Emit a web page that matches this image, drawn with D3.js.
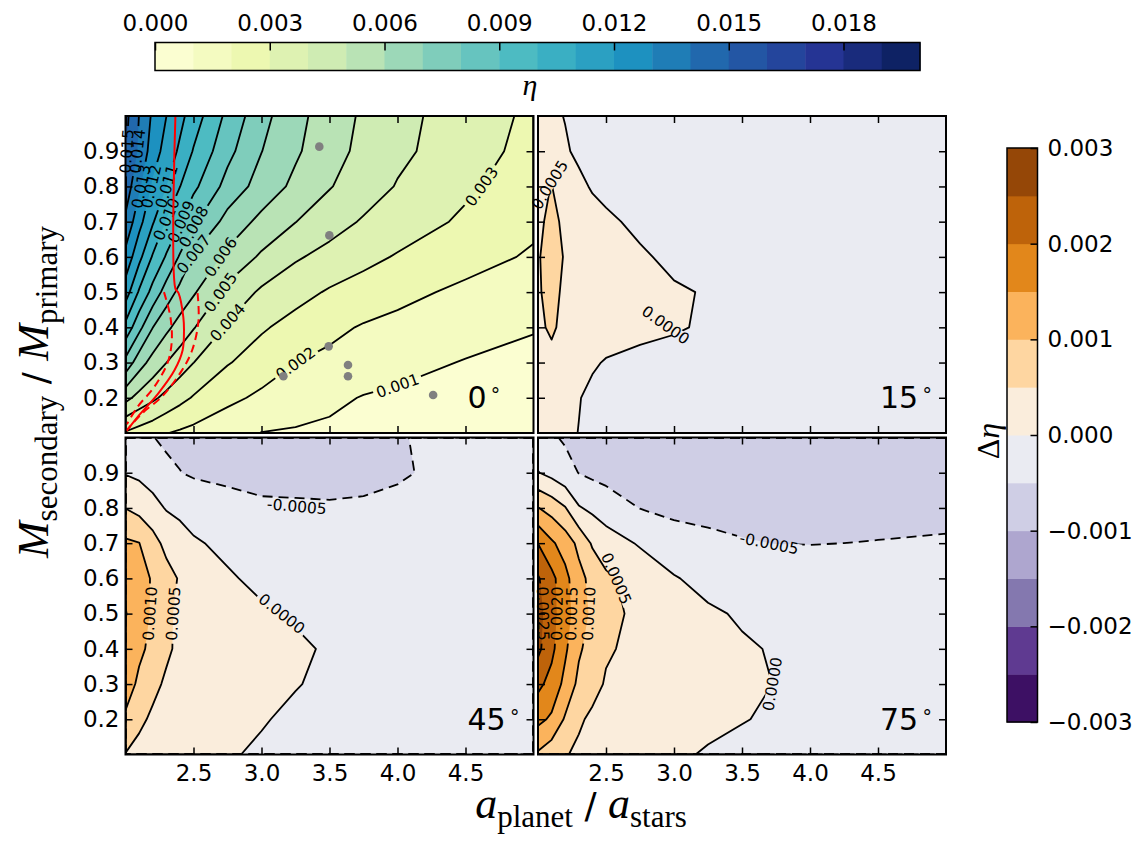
<!DOCTYPE html>
<html>
<head>
<meta charset="utf-8">
<script src="https://cdn.jsdelivr.net/npm/d3@7"></script>
<style>
  body { margin: 0; background: #fff; }
  svg { display: block; }
</style>
</head>
<body>
<div id="chart"></div>
<script>
// Grid of the runs: a_planet / a_stars (columns) and M_secondary / M_primary (rows)
const xGrid = [2.0, 2.1, 2.2, 2.3, 2.4, 2.5, 2.75, 3.0, 3.25, 3.5, 3.75, 4.0, 4.5, 5.0];
const yGrid = [0.1, 0.2, 0.3, 0.4, 0.5, 0.6, 0.7, 0.8, 0.9, 1.0];

// eta for the coplanar case, one row per mass ratio (bottom row first)
const eta0 = [
  [0.0029, 0.0026, 0.00235, 0.00203, 0.00186, 0.00171, 0.00133, 0.00098, 0.0009, 0.00082, 0.00075, 0.00068, 0.0006, 0.0005],
  [0.0053, 0.00467, 0.00419, 0.00374, 0.0033, 0.00292, 0.00224, 0.00181, 0.00151, 0.00121, 0.00095, 0.00085, 0.0008, 0.0007],
  [0.0077, 0.00644, 0.00563, 0.00501, 0.0045, 0.00401, 0.00307, 0.00252, 0.00201, 0.00178, 0.00156, 0.00128, 0.00095, 0.0008],
  [0.0097, 0.00829, 0.00702, 0.00623, 0.00561, 0.00506, 0.00388, 0.00312, 0.00265, 0.00223, 0.00192, 0.00175, 0.0014, 0.00105],
  [0.0115, 0.00988, 0.00867, 0.00756, 0.00671, 0.00612, 0.00471, 0.00384, 0.00334, 0.0029, 0.00258, 0.00226, 0.0018, 0.00147],
  [0.0127, 0.01129, 0.0099, 0.0089, 0.00789, 0.0069, 0.00577, 0.00485, 0.00412, 0.00367, 0.00328, 0.00292, 0.00236, 0.00188],
  [0.0138, 0.01233, 0.01111, 0.00992, 0.00908, 0.00818, 0.00664, 0.00574, 0.00502, 0.00442, 0.0039, 0.00353, 0.00283, 0.0022],
  [0.0146, 0.01317, 0.01183, 0.01101, 0.01002, 0.00923, 0.00765, 0.00659, 0.00577, 0.00506, 0.00448, 0.00394, 0.00317, 0.00245],
  [0.0151, 0.01383, 0.0125, 0.01162, 0.01082, 0.00993, 0.00829, 0.00702, 0.00614, 0.00538, 0.00474, 0.00421, 0.00346, 0.00265],
  [0.0153, 0.01398, 0.01283, 0.01201, 0.01129, 0.0105, 0.00875, 0.00732, 0.0063, 0.00551, 0.00485, 0.0043, 0.00351, 0.0028]
];

// delta eta relative to the coplanar case at 15, 45 and 75 degrees
const dEta15 = [
  [0.0002, 0.00018, 0.0001, -0.00001, -0.0001, -0.00015, -0.0002, -0.0002, -0.0002, -0.0002, -0.0002, -0.0002, -0.0002, -0.0002],
  [0.00025, 0.00022, 0.00015, 0.00002, -0.0001, -0.00015, -0.0002, -0.0002, -0.0002, -0.0002, -0.0002, -0.0002, -0.0002, -0.0002],
  [0.0003, 0.00035, 0.00025, 0.00015, 0.00005, -0.00003, -0.00012, -0.00015, -0.0002, -0.0002, -0.0002, -0.0002, -0.0002, -0.0002],
  [0.0004, 0.00058, 0.00035, 0.0003, 0.00025, 0.0002, 0.00012, 0.00004, -0.00005, -0.00012, -0.00018, -0.0002, -0.0002, -0.0002],
  [0.00045, 0.00065, 0.0004, 0.00032, 0.00026, 0.0002, 0.00012, 0.00005, -0.00003, -0.00012, -0.00018, -0.0002, -0.0002, -0.0002],
  [0.00045, 0.00075, 0.00045, 0.00035, 0.00028, 0.00022, 0.00006, -0.0001, -0.00018, -0.0002, -0.0002, -0.0002, -0.0002, -0.0002],
  [0.00042, 0.0006, 0.00042, 0.0003, 0.0002, 0.00008, -0.0001, -0.0002, -0.0002, -0.0002, -0.0002, -0.0002, -0.0002, -0.0002],
  [0.0004, 0.00051, 0.0003, 0.00012, -0.00005, -0.00012, -0.0002, -0.0002, -0.0002, -0.0002, -0.0002, -0.0002, -0.0002, -0.0002],
  [0.0003, 0.00022, 0.00006, -0.0001, -0.00015, -0.0002, -0.0002, -0.0002, -0.0002, -0.0002, -0.0002, -0.0002, -0.0002, -0.0002],
  [0.0002, 0.0001, -0.00002, -0.0001, -0.00015, -0.0002, -0.0002, -0.0002, -0.0002, -0.0002, -0.0002, -0.0002, -0.0002, -0.0002]
];
const dEta45 = [
  [0.00048, 0.00035, 0.00028, 0.00024, 0.0002, 0.00017, 0.00004, -0.00006, -0.00012, -0.00016, -0.00018, -0.0002, -0.0002, -0.0002],
  [0.00093, 0.0006, 0.00042, 0.00033, 0.00027, 0.00022, 0.00014, 0.00003, -0.00008, -0.00014, -0.00018, -0.0002, -0.0002, -0.0002],
  [0.0012, 0.00092, 0.00062, 0.00043, 0.00035, 0.00029, 0.0002, 0.00012, 0.00002, -0.00008, -0.00015, -0.0002, -0.0002, -0.0002],
  [0.0014, 0.00108, 0.0009, 0.00058, 0.0004, 0.00034, 0.00024, 0.00014, 0.00006, -0.00004, -0.00012, -0.00018, -0.0002, -0.0002],
  [0.00152, 0.00128, 0.00092, 0.00058, 0.00042, 0.00033, 0.00018, 0.00006, -0.00004, -0.00012, -0.00018, -0.0002, -0.0002, -0.0002],
  [0.0014, 0.0012, 0.00095, 0.0007, 0.00045, 0.00032, 0.00005, -0.0001, -0.00015, -0.0002, -0.0002, -0.0002, -0.0002, -0.0002],
  [0.00108, 0.00101, 0.0007, 0.00035, 0.00018, 0.00005, -0.0001, -0.00018, -0.0002, -0.0002, -0.0002, -0.0002, -0.0002, -0.0002],
  [0.00049, 0.00035, 0.00015, -0.00003, -0.0001, -0.00018, -0.00035, -0.00045, -0.00046, -0.00047, -0.00045, -0.0004, -0.00025, -0.0002],
  [-0.00003, -0.0001, -0.0002, -0.00042, -0.00049, -0.00056, -0.0006, -0.0006, -0.0006, -0.0006, -0.0006, -0.00055, -0.00035, -0.0003],
  [-0.00025, -0.0004, -0.00049, -0.00056, -0.0006, -0.00063, -0.00065, -0.00065, -0.00065, -0.00065, -0.0006, -0.00052, -0.0004, -0.0003]
];
const dEta75 = [
  [0.00093, 0.0007, 0.00053, 0.00042, 0.00034, 0.00027, 0.00016, 0.00007, -0.00004, -0.00012, -0.00016, -0.00018, -0.0002, -0.0002],
  [0.00163, 0.00142, 0.00094, 0.00056, 0.00042, 0.00034, 0.00024, 0.00016, 0.0001, 0.00002, -0.00006, -0.00012, -0.00018, -0.0002],
  [0.00212, 0.00183, 0.00136, 0.00088, 0.00064, 0.00046, 0.00032, 0.00024, 0.00016, 0.00008, -0.00001, -0.0001, -0.00018, -0.0002],
  [0.00262, 0.00212, 0.00158, 0.00107, 0.0008, 0.00055, 0.00038, 0.00026, 0.00016, 0.00006, -0.00004, -0.00012, -0.0002, -0.00022],
  [0.0027, 0.00218, 0.0017, 0.00125, 0.0009, 0.00068, 0.00035, 0.00022, 0.00008, -0.00006, -0.00016, -0.00022, -0.00025, -0.00025],
  [0.00255, 0.00215, 0.00165, 0.00115, 0.00085, 0.00058, 0.00032, 0.00004, -0.00018, -0.00026, -0.0003, -0.0003, -0.0003, -0.0003],
  [0.00199, 0.00158, 0.00127, 0.00088, 0.00044, 0.00024, -0.00005, -0.00035, -0.00042, -0.00048, -0.000505, -0.00051, -0.00049, -0.00047],
  [0.00102, 0.0008, 0.00053, 0.00004, -0.0001, -0.00025, -0.00051, -0.00058, -0.0006, -0.0006, -0.0006, -0.0006, -0.0006, -0.00058],
  [0.00002, -0.00015, -0.00035, -0.00051, -0.0006, -0.00065, -0.0007, -0.00075, -0.00075, -0.00075, -0.00075, -0.00075, -0.00075, -0.00075],
  [-0.00035, -0.00045, -0.00055, -0.0006, -0.00065, -0.0007, -0.00075, -0.0008, -0.0008, -0.0008, -0.0008, -0.0008, -0.0008, -0.0008]
];

// Contour levels
const etaLevels = d3.range(21).map(i => i * 0.001);
const dEtaLevels = d3.range(13).map(i => (i - 6) * 0.0005);

// Ticks
const xTicks = [2.5, 3.0, 3.5, 4.0, 4.5];
const yTicks = [0.2, 0.3, 0.4, 0.5, 0.6, 0.7, 0.8, 0.9];
const etaBarTicks = [0, 0.003, 0.006, 0.009, 0.012, 0.015, 0.018];
const dEtaBarTicks = [-0.003, -0.002, -0.001, 0, 0.001, 0.002, 0.003];

// Inline contour labels: [level, a ratio, mass ratio, fixed angle (optional)]
const labels0 = [
  [0.001, 3.907, 0.234], [0.002, 3.205, 0.297], [0.003, 4.697, 0.835], [0.004, 2.794, 0.44],
  [0.005, 2.697, 0.512], [0.006, 2.709, 0.612], [0.007, 2.494, 0.611], [0.008, 2.499, 0.686],
  [0.009, 2.413, 0.703], [0.010, 2.298, 0.714], [0.011, 2.303, 0.80], [0.012, 2.164, 0.784],
  [0.013, 2.127, 0.828], [0.014, 2.115, 0.89], [0.015, 2.054, 0.916]
];
const labels15 = [[0.0005, 2.085, 0.805, -58], [0, 2.94, 0.407, 36]];
const labels45 = [[-0.0005, 3.26, 0.805, 5], [0, 3.21, 0.50], [0.001, 2.164, 0.505], [0.0005, 2.367, 0.505]];
const labels75 = [
  [-0.0005, 3.72, 0.698], [0, 3.736, 0.331], [0.0005, 2.56, 0.60], [0.001, 2.355, 0.50],
  [0.0015, 2.244, 0.50], [0.002, 2.134, 0.50], [0.0025, 2.03, 0.50]
];

// Known systems (grey points) and the stability limit (red) in the coplanar panel
const systems = [[3.425, 0.913], [3.499, 0.661], [3.494, 0.346], [3.636, 0.293], [3.636, 0.261], [3.161, 0.261], [4.262, 0.208]];
const limit = [[2.367, 1.0], [2.367, 0.51], [2.39, 0.497], [2.425, 0.43], [2.43, 0.39], [2.42, 0.335], [2.36, 0.278], [2.24, 0.212], [2.09, 0.146], [2.008, 0.106]];
const limitLow = [[2.283, 0.50], [2.33, 0.43], [2.34, 0.36], [2.31, 0.30], [2.21, 0.23], [2.09, 0.175], [2.01, 0.125]];
const limitHigh = [[2.53, 0.497], [2.537, 0.42], [2.49, 0.335], [2.41, 0.275], [2.27, 0.204], [2.12, 0.155], [2.01, 0.108]];

// Colormaps (matplotlib YlGnBu and PuOr, linear segments)
const ylgnbu = d3.piecewise(d3.interpolateRgb, ["#ffffd9", "#edf8b1", "#c7e9b4", "#7fcdbb", "#41b6c4", "#1d91c0", "#225ea8", "#253494", "#081d58"]);
const puor = d3.piecewise(d3.interpolateRgb, ["#7f3b08", "#b35806", "#e08214", "#fdb863", "#fee0b6", "#f7f7f7", "#d8daeb", "#b2abd2", "#8073ac", "#542788", "#2d004b"]);
const etaBand = i => ylgnbu((i + 0.5) / 20);
const dEtaBand = i => puor(1 - (i + 0.5) / 12);

const sans = "DejaVu Sans";
const serif = "Liberation Serif";
const tickFont = 23;

// Set up dimensions
const panelW = 408, panelH = 317;
const svg = d3.select("#chart")
    .append("svg")
    .attr("width", 1141)
    .attr("height", 841)
    .attr("font-family", sans);
const defs = svg.append("defs");

const panels = [
  { id: "p0", name: "0", grid: eta0, levels: etaLevels, band: etaBand, fmt: v => v.toFixed(3), labels: labels0, x0: 125.5, y0: 116, left: true, bottom: false },
  { id: "p15", name: "15", grid: dEta15, levels: dEtaLevels, band: dEtaBand, fmt: v => v.toFixed(4), labels: labels15, x0: 538, y0: 116, left: false, bottom: false },
  { id: "p45", name: "45", grid: dEta45, levels: dEtaLevels, band: dEtaBand, fmt: v => v.toFixed(4), labels: labels45, x0: 125.5, y0: 437.5, left: true, bottom: true },
  { id: "p75", name: "75", grid: dEta75, levels: dEtaLevels, band: dEtaBand, fmt: v => v.toFixed(4), labels: labels75, x0: 538, y0: 437.5, left: false, bottom: true }
];

const nx = xGrid.length, ny = yGrid.length;
// grid index -> data value (d3.contours puts sample i at i + 0.5)
const gx = d3.scaleLinear().domain(d3.range(nx)).range(xGrid).clamp(true);
const gy = d3.scaleLinear().domain(d3.range(ny)).range(yGrid).clamp(true);

panels.forEach(p => {
    const x = d3.scaleLinear().domain([2, 5]).range([p.x0, p.x0 + panelW]);
    const y = d3.scaleLinear().domain([0.1, 1.0]).range([p.y0 + panelH, p.y0]);
    const toPx = pt => [x(gx(pt[0] - 0.5)), y(gy(pt[1] - 0.5))];
    const path = d3.geoPath(d3.geoTransform({
        point(a, b) { const q = toPx([a, b]); this.stream.point(q[0], q[1]); }
    }));

    const contours = d3.contours()
        .size([nx, ny])
        .thresholds(p.levels)(p.grid.flat());

    defs.append("clipPath").attr("id", "clip-" + p.id)
        .append("rect")
        .attr("x", p.x0).attr("y", p.y0)
        .attr("width", panelW).attr("height", panelH);

    const g = svg.append("g");

    // Filled bands
    g.append("g")
        .attr("clip-path", `url(#clip-${p.id})`)
        .selectAll("path")
        .data(contours.slice(0, -1))
        .join("path")
        .attr("d", path)
        .attr("fill", (d, i) => p.band(i));

    // Contour lines (masked where the labels go)
    const lines = g.append("g")
        .attr("clip-path", `url(#clip-${p.id})`)
        .append("g")
        .attr("mask", `url(#mask-${p.id})`);
    lines.selectAll("path")
        .data(contours.slice(1, -1))
        .join("path")
        .attr("d", path)
        .attr("fill", "none")
        .attr("stroke", "#000")
        .attr("stroke-width", 1.8)
        .attr("stroke-linejoin", "round")
        .attr("stroke-dasharray", d => d.value < -1e-9 ? "10,6" : null);

    // Inline labels, placed on the nearest contour point
    const mask = defs.append("mask").attr("id", "mask-" + p.id)
        .attr("maskUnits", "userSpaceOnUse")
        .attr("x", p.x0 - 5).attr("y", p.y0 - 5)
        .attr("width", panelW + 10).attr("height", panelH + 10);
    mask.append("rect")
        .attr("x", p.x0 - 5).attr("y", p.y0 - 5)
        .attr("width", panelW + 10).attr("height", panelH + 10)
        .attr("fill", "#fff");

    const labelG = g.append("g");
    p.labels.forEach(([level, lx, ly, fixed]) => {
        const c = contours.find(d => Math.abs(d.value - level) < 1e-9);
        if (!c) return;
        const ax = x(lx), ay = y(ly);
        let best = null;
        c.coordinates.forEach(poly => poly.forEach(ring => {
            ring.forEach((pt, k) => {
                if (pt[0] <= 0 || pt[0] >= nx || pt[1] <= 0 || pt[1] >= ny) return;
                const q = toPx(pt);
                const dist = Math.hypot(q[0] - ax, q[1] - ay);
                if (!best || dist < best.dist) {
                    const a = toPx(ring[(k - 1 + ring.length) % ring.length]);
                    const b = toPx(ring[(k + 1) % ring.length]);
                    best = { dist, q, a, b };
                }
            });
        }));
        if (!best) return;
        let ang = Math.atan2(best.b[1] - best.a[1], best.b[0] - best.a[0]) * 180 / Math.PI;
        while (ang >= 90) ang -= 180;
        while (ang < -90) ang += 180;
        let pos = best.q;
        if (fixed !== undefined) { ang = fixed; pos = [ax, ay]; }
        const t = labelG.append("text")
            .attr("transform", `translate(${pos[0]},${pos[1]}) rotate(${ang})`)
            .attr("text-anchor", "middle")
            .attr("dy", "0.36em")
            .attr("font-size", 15.5)
            .text(p.fmt(level));
        const w = t.node().getComputedTextLength() + 6;
        mask.append("rect")
            .attr("x", -w / 2).attr("y", -5)
            .attr("width", w).attr("height", 10)
            .attr("transform", `translate(${pos[0]},${pos[1]}) rotate(${ang})`)
            .attr("fill", "#000");
    });

    // Coplanar panel extras: stability limit and known systems
    if (p.id === "p0") {
        const line = d3.line()
            .x(d => x(d[0]))
            .y(d => y(d[1]))
            .curve(d3.curveCatmullRom.alpha(0.5));
        const red = g.append("g").attr("clip-path", `url(#clip-${p.id})`);
        red.append("path").attr("d", line(limit))
            .attr("fill", "none").attr("stroke", "#ff0000").attr("stroke-width", 2);
        [limitLow, limitHigh].forEach(arr => {
            red.append("path").attr("d", line(arr))
                .attr("fill", "none").attr("stroke", "#ff0000").attr("stroke-width", 2)
                .attr("stroke-dasharray", "8,5");
        });
        g.selectAll(".system")
            .data(systems)
            .join("circle")
            .attr("class", "system")
            .attr("cx", d => x(d[0]))
            .attr("cy", d => y(d[1]))
            .attr("r", 4.3)
            .attr("fill", "#808080");
    }

    // Axes with inward ticks on all four sides
    const fmt1 = d3.format(".1f");
    const addAxis = (axis, tx, ty, showLabels) => {
        const ax = g.append("g")
            .attr("transform", `translate(${tx},${ty})`)
            .call(axis.tickSizeOuter(0).tickFormat(showLabels ? fmt1 : () => ""));
        ax.select(".domain").remove();
        ax.attr("font-family", sans).attr("font-size", tickFont);
        ax.selectAll("line").attr("stroke", "#000").attr("stroke-width", 1.5);
        ax.selectAll("text").attr("fill", "#000");
    };
    addAxis(d3.axisBottom(x).tickValues(xTicks).tickSizeInner(-7).tickPadding(10), 0, p.y0 + panelH, p.bottom);
    addAxis(d3.axisTop(x).tickValues(xTicks).tickSizeInner(-7), 0, p.y0, false);
    addAxis(d3.axisLeft(y).tickValues(yTicks).tickSizeInner(-7).tickPadding(6), p.x0, 0, p.left);
    addAxis(d3.axisRight(y).tickValues(yTicks).tickSizeInner(-7), p.x0 + panelW, 0, false);

    // Frame
    g.append("rect")
        .attr("x", p.x0).attr("y", p.y0)
        .attr("width", panelW).attr("height", panelH)
        .attr("fill", "none").attr("stroke", "#000").attr("stroke-width", 2);

    // Inclination tag
    g.append("text")
        .attr("x", p.x0 + 342)
        .attr("y", p.y0 + panelH - 25)
        .attr("font-size", 30)
        .text(p.name)
        .append("tspan")
        .attr("dx", 3).attr("dy", -12)
        .attr("font-size", 19)
        .text("∘");
});

// Top colorbar (eta)
const etaBar = d3.scaleLinear().domain([0, 0.02]).range([155, 920]);
const topBar = svg.append("g");
topBar.selectAll("rect")
    .data(etaLevels.slice(0, -1))
    .join("rect")
    .attr("x", d => etaBar(d))
    .attr("y", 42.5)
    .attr("width", etaBar(0.001) - etaBar(0) + 0.5)
    .attr("height", 28)
    .attr("fill", (d, i) => etaBand(i));
const topAxis = topBar.append("g")
    .attr("transform", "translate(0,42.5)")
    .call(d3.axisTop(etaBar).tickValues(etaBarTicks).tickSizeInner(-8).tickSizeOuter(0).tickPadding(12).tickFormat(d3.format(".3f")));
topAxis.select(".domain").remove();
topAxis.attr("font-family", sans).attr("font-size", tickFont);
topAxis.selectAll("line").attr("stroke-width", 1.5);
topBar.append("rect")
    .attr("x", 155).attr("y", 42.5).attr("width", 765).attr("height", 28)
    .attr("fill", "none").attr("stroke", "#000").attr("stroke-width", 1.5);
svg.append("text")
    .attr("x", 530).attr("y", 95)
    .attr("text-anchor", "middle")
    .attr("font-family", serif)
    .attr("font-style", "italic")
    .attr("font-size", 30)
    .text("η");

// Right colorbar (delta eta)
const dBar = d3.scaleLinear().domain([-0.003, 0.003]).range([722, 148]);
const rightBar = svg.append("g");
rightBar.selectAll("rect")
    .data(dEtaLevels.slice(0, -1))
    .join("rect")
    .attr("x", 1007)
    .attr("y", d => dBar(d + 0.0005))
    .attr("width", 30.5)
    .attr("height", dBar(0) - dBar(0.0005) + 0.5)
    .attr("fill", (d, i) => dEtaBand(i));
const rightAxis = rightBar.append("g")
    .attr("transform", "translate(1037.5,0)")
    .call(d3.axisRight(dBar).tickValues(dEtaBarTicks).tickSizeInner(-7).tickSizeOuter(0).tickPadding(10).tickFormat(d3.format(".3f")));
rightAxis.select(".domain").remove();
rightAxis.attr("font-family", sans).attr("font-size", tickFont);
rightAxis.selectAll("line").attr("stroke-width", 1.5);
rightBar.append("rect")
    .attr("x", 1007).attr("y", 148).attr("width", 30.5).attr("height", 574)
    .attr("fill", "none").attr("stroke", "#000").attr("stroke-width", 1.5);
const dLabel = svg.append("text")
    .attr("transform", "translate(999,441) rotate(-90)")
    .attr("text-anchor", "middle")
    .attr("font-family", serif)
    .attr("font-size", 32);
dLabel.append("tspan").text("Δ");
dLabel.append("tspan").attr("font-style", "italic").text("η");

// Axis titles
const xTitle = svg.append("text")
    .attr("x", 581)
    .attr("y", 818)
    .attr("text-anchor", "middle")
    .attr("font-family", serif)
    .attr("font-size", 44);
xTitle.append("tspan").attr("font-style", "italic").text("a");
xTitle.append("tspan").attr("font-size", 31).attr("dy", 9).text("planet");
xTitle.append("tspan").attr("font-family", sans).attr("font-size", 36).attr("dy", -9).text(" / ");
xTitle.append("tspan").attr("font-style", "italic").text("a");
xTitle.append("tspan").attr("font-size", 31).attr("dy", 9).text("stars");

const yTitle = svg.append("text")
    .attr("transform", "translate(48,392) rotate(-90)")
    .attr("text-anchor", "middle")
    .attr("font-family", serif)
    .attr("font-size", 44);
yTitle.append("tspan").attr("font-style", "italic").text("M");
yTitle.append("tspan").attr("font-size", 31).attr("dy", 9).text("secondary");
yTitle.append("tspan").attr("font-family", sans).attr("font-size", 36).attr("dy", -9).text(" / ");
yTitle.append("tspan").attr("font-style", "italic").text("M");
yTitle.append("tspan").attr("font-size", 31).attr("dy", 9).text("primary");
</script>
</body>
</html>
